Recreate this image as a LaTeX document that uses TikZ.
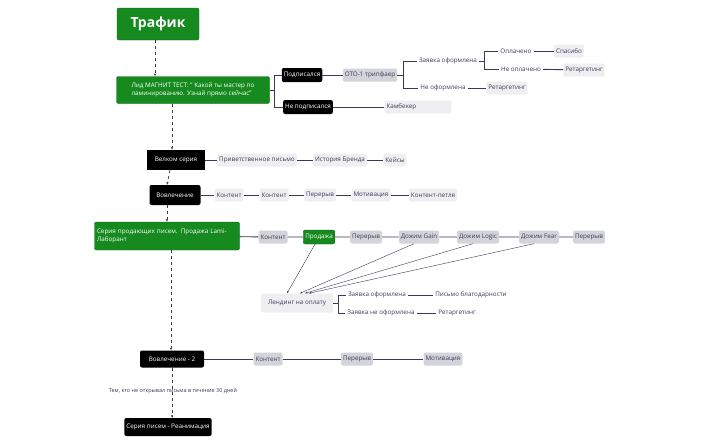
\documentclass[tikz,border=0pt]{standalone}
\usepackage{fontspec}
\setmainfont{Open Sans}
\usetikzlibrary{arrows.meta}
\definecolor{gr}{HTML}{168A1E}
\definecolor{lg}{HTML}{EFEFF1}
\definecolor{mg}{HTML}{D3D3DA}
\definecolor{ln}{HTML}{3A3A5A}
\begin{document}
\begin{tikzpicture}[x=1pt,y=-1pt,
 every node/.style={font=\fontsize{6.3}{7.6}\selectfont,inner sep=2pt},
 gbox/.style={fill=gr,text=white,rounded corners=2pt,draw=gr!70!black,line width=0.4pt},
 bbox/.style={fill=black,text=white,rounded corners=2pt},
 light/.style={fill=lg,text=ln,rounded corners=2pt,minimum height=13pt},
 mid/.style={fill=mg,text=ln,rounded corners=2pt,minimum height=13pt},
 txt/.style={text=ln},
 con/.style={ln,line width=0.9pt},
 darr/.style={ln,line width=0.8pt,dashed,-{Stealth[length=3pt]}},
 thin/.style={ln,line width=0.4pt,-{Stealth[length=2.5pt]}}]
\useasboundingbox (0,0) rectangle (718,445);
\node[gbox,font=\fontsize{14}{16}\selectfont\bfseries,minimum width=82pt,minimum height=32pt] (traf) at (158,24) {Трафик};
\node[gbox,align=left,minimum width=153pt,minimum height=27pt] (lead) at (193,90) {Лид МАГНИТ ТЕСТ: " Какой ты мастер по\\ламинированию. Узнай прямо сейчас"};
\node[bbox,minimum height=14pt] (pod) at (302,75) {Подписался};
\node[bbox,minimum height=14pt] (npod) at (308,107) {Не подписался};
\node[mid] (oto) at (370,75) {OTO-1 трипфаер};
\node[txt] (zo) at (448,61) {Заявка оформлена};
\node[txt] (opl) at (516,51) {Оплачено};
\node[light] (spa) at (569,51) {Спасибо};
\node[txt] (nopl) at (521,69) {Не оплачено};
\node[light] (ret1) at (584,70) {Ретаргетинг};
\node[txt] (nof) at (443,88) {Не оформлена};
\node[light] (ret2) at (507,88) {Ретаргетинг};
\node[light,minimum width=67pt,align=left,text width=63pt] (kam) at (418,107) {Камбекер};
\draw[con] (lead.east) -- ++(5,0) |- (pod.west);
\draw[con] (lead.east) -- ++(5,0) |- (npod.west);
\draw[con] (pod) -- (oto);
\draw[con] (npod) -- (kam);
\draw[con] (oto.east) -- ++(6,0) |- (zo.west);
\draw[con] (oto.east) -- ++(6,0) |- (nof.west);
\draw[con] (zo.east) -- ++(5,0) |- (opl.west);
\draw[con] (zo.east) -- ++(5,0) |- (nopl.west);
\draw[con] (opl) -- (spa);
\draw[con] (nopl) -- (ret1);
\draw[con] (nof) -- (ret2);
% Welcome
\node[bbox,rounded corners=0pt,minimum width=58pt,minimum height=20pt] (wel) at (176,160) {Велком серия};
\node[light] (w1) at (257,160) {Приветственное письмо};
\node[light] (w2) at (340,160) {История Бренда};
\node[light] (w3) at (395,160) {Кейсы};
\draw[con] (wel) -- (w1) -- (w2) -- (w3);
% Vovlechenie
\node[bbox,minimum width=51pt,minimum height=20pt] (vov) at (175,195) {Вовлечение};
\node[light] (v1) at (229,195) {Контент};
\node[light] (v2) at (274,195) {Контент};
\node[light] (v3) at (320,195) {Перерыв};
\node[light] (v4) at (371,195) {Мотивация};
\node[light] (v5) at (433,195) {Контент-петля};
\draw[con] (vov) -- (v1) -- (v2) -- (v3) -- (v4) -- (v5);
% Sales
\node[gbox,align=left,minimum width=145pt,minimum height=28pt,text width=140pt] (ser) at (167,236) {Серия продающих писем. Продажа Lami-\\Лаборант};
\node[mid] (s1) at (273,237) {Контент};
\node[gbox,minimum height=14pt] (s2) at (319,237) {Продажа};
\node[mid] (s3) at (366,237) {Перерыв};
\node[mid] (s4) at (419,237) {Дожим Gain};
\node[mid] (s5) at (478,237) {Дожим Logic};
\node[mid] (s6) at (539,237) {Дожим Fear};
\node[mid] (s7) at (589,237) {Перерыв};
\draw[con] (ser) -- (s1) -- (s2) -- (s3) -- (s4) -- (s5) -- (s6) -- (s7);
\node[light,minimum height=19pt,minimum width=72pt] (lend) at (297,303) {Лендинг на оплату};
\node[txt] (lz) at (377,295) {Заявка оформлена};
\node[txt] (lp) at (471,295) {Письмо благодарности};
\node[txt] (lnz) at (381,313) {Заявка не оформлена};
\node[txt] (lr) at (457,313) {Ретаргетинг};
\draw[con] (lend.east) -- ++(5,0) |- (lz.west);
\draw[con] (lend.east) -- ++(5,0) |- (lnz.west);
\draw[con] (lz) -- (lp);
\draw[con] (lnz) -- (lr);
\draw[thin] ([xshift=-4pt]s2.south) -- ([xshift=-10pt]lend.north);
\draw[thin] ([xshift=-5pt]s4.south) -- ([xshift=3pt]lend.north);
\draw[thin] ([xshift=-5pt]s5.south) -- ([xshift=8pt]lend.north);
\draw[thin] ([xshift=-5pt]s6.south) -- ([xshift=12pt]lend.north);
% Vovlechenie 2
\node[bbox,minimum width=64pt,minimum height=17pt] (vv2) at (172,359) {Вовлечение - 2};
\node[mid] (u1) at (268,359) {Контент};
\node[mid] (u2) at (357,359) {Перерыв};
\node[mid] (u3) at (443,359) {Мотивация};
\draw[con] (vv2) -- (u1) -- (u2) -- (u3);
\node[text=ln,font=\fontsize{5.5}{6.5}\selectfont] (tem) at (173,391) {Тем, кто не открывал письма в течение 30 дней};
\node[bbox,minimum width=75pt,minimum height=18pt] (rea) at (168,427) {Серия писем - Реанимация};
% dashed arrows
\draw[darr] ([xshift=-3pt]traf.south) -- ([xshift=-38pt]lead.north);
\draw[darr] ([xshift=-21pt]lead.south) -- ([xshift=-4pt]wel.north);
\draw[darr] ([xshift=-6pt]wel.south) -- ([xshift=-8pt]vov.north);
\draw[darr] ([xshift=-8pt]vov.south) -- ([xshift=0pt]ser.north);
\draw[darr] ([xshift=4pt]ser.south) -- ([xshift=-1pt]vv2.north);
\draw[darr] (vv2.south) -- ([xshift=4pt]rea.north);
\end{tikzpicture}
\end{document}
